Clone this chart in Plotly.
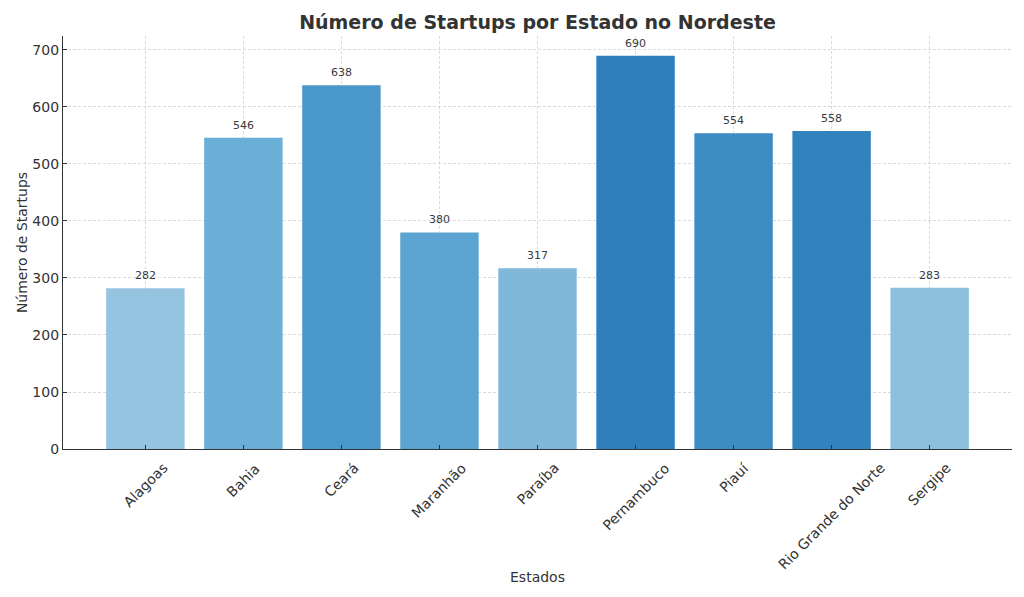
import plotly.graph_objects as go

estados = ["Alagoas", "Bahia", "Ceará", "Maranhão", "Paraíba", "Pernambuco", "Piauí", "Rio Grande do Norte", "Sergipe"]
startups = [282, 546, 638, 380, 317, 690, 554, 558, 283]
cores = ["#94c4e0", "#6baed6", "#4a98c9", "#5ba3d0", "#7fb8da", "#2f7fbc", "#3d8cc4", "#3282be", "#8cc0dd"]

FONT = "DejaVu Sans"
TXT = "#333333"

fig = go.Figure(go.Bar(
    x=estados, y=startups,
    marker=dict(color=cores, line=dict(width=0)),
    width=0.8,
    hoverinfo="x+y",
))

# value labels above bars
for e, v in zip(estados, startups):
    fig.add_annotation(
        x=e, y=v, xref="x", yref="y", text=str(v), showarrow=False,
        xanchor="center", yanchor="bottom", yshift=4,
        font=dict(family=FONT, size=11, color="#3a3a3a"),
    )

# rotated category labels, centred under each tick (matplotlib style)
for e in estados:
    fig.add_annotation(
        x=e, xref="x", y=-0.02, yref="paper",
        text=e, textangle=-45, showarrow=False,
        xanchor="center", yanchor="top",
        font=dict(family=FONT, size=14, color=TXT),
    )
fig.add_annotation(
    x=0.5, xref="paper", y=(449 - 577) / 413.0, yref="paper", yanchor="middle",
    text="Estados", showarrow=False,
    font=dict(family=FONT, size=14, color=TXT),
)

fig.update_layout(
    width=1024, height=597,
    margin=dict(l=63, r=12, t=36, b=148),
    paper_bgcolor="white", plot_bgcolor="white",
    font=dict(family=FONT, color=TXT),
    title=dict(text="<b>Número de Startups por Estado no Nordeste</b>",
               x=0.5, xref="paper", xanchor="center", y=0.963, yanchor="middle",
               font=dict(family=FONT, size=19, color=TXT)),
    showlegend=False,
    bargap=0.2,
)
fig.update_xaxes(
    range=[-0.84, 8.84],
    showticklabels=False,
    showline=True, linecolor="#333333", linewidth=1.2,
    ticks="inside", ticklen=4, tickcolor="#333333",
    showgrid=True, gridcolor="rgba(190,190,190,0.55)", griddash="3px,2px", gridwidth=0.8,
    layer="above traces",
)
fig.update_yaxes(
    range=[0, 724.5],
    tickvals=[0, 100, 200, 300, 400, 500, 600, 700],
    tickfont=dict(family=FONT, size=14, color=TXT),
    showline=True, linecolor="#333333", linewidth=1.2,
    ticks="inside", ticklen=4, tickcolor="#333333",
    showgrid=True, gridcolor="rgba(190,190,190,0.55)", griddash="3px,2px", gridwidth=0.8,
    zeroline=False,
    title=dict(text="Número de Startups", font=dict(family=FONT, size=14, color=TXT), standoff=1),
    layer="above traces",
)

fig.write_html("out.html")
